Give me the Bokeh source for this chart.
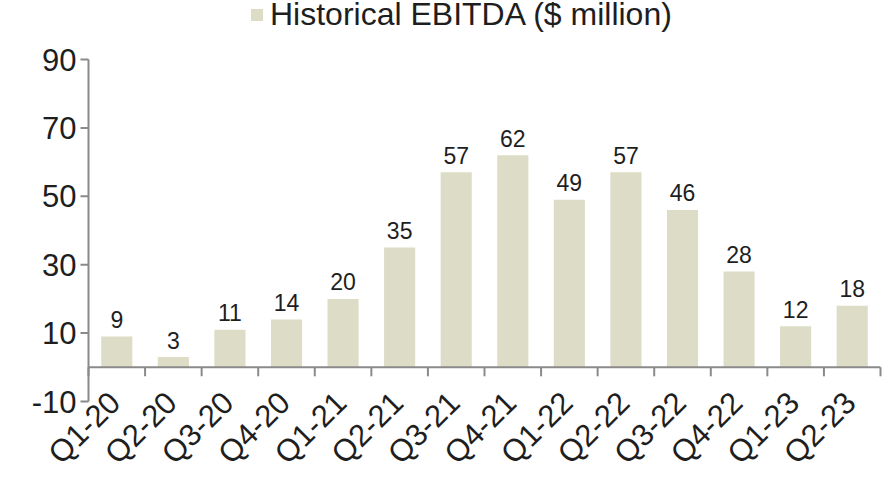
import math
from bokeh.plotting import figure
from bokeh.models import ColumnDataSource, Legend, LegendItem, Range1d
from bokeh.core.properties import value
from bokeh.embed import file_html
from bokeh.resources import INLINE

quarters = ["Q1-20", "Q2-20", "Q3-20", "Q4-20", "Q1-21", "Q2-21", "Q3-21", "Q4-21",
            "Q1-22", "Q2-22", "Q3-22", "Q4-22", "Q1-23", "Q2-23"]
ebitda = [9, 3, 11, 14, 20, 35, 57, 62, 49, 57, 46, 28, 12, 18]
y_ticks = [-10, 10, 30, 50, 70, 90]
series_name = "Historical EBITDA ($ million)"

FONT = "Liberation Sans"
BAR = "#DDDCC6"
AXIS = "#8A8A8A"
TXT = "#1E1E1E"

W, H = 882, 469
AXIS_X_PX = 88              # pixel column of the value axis
RIGHT_PX = 2
PX_PER_UNIT = 3.42          # vertical scale of the value axis
TOP_PX = 59                 # pixel row of the top tick
n = len(quarters)
px_per_cat = (W - AXIS_X_PX - RIGHT_PX) / n
x_start = -AXIS_X_PX / px_per_cat
x_end = n + RIGHT_PX / px_per_cat
y_top = y_ticks[-1] + TOP_PX / PX_PER_UNIT
y_bot = y_top - H / PX_PER_UNIT

xs = [i + 0.5 for i in range(n)]
src = ColumnDataSource(dict(x=xs, y=ebitda, lbl=[str(v) for v in ebitda]))
cat_src = ColumnDataSource(dict(x=xs, y=[0] * n, q=quarters))
edges = list(range(n + 1))
xt_len = 9 / PX_PER_UNIT
edge_src = ColumnDataSource(dict(x=edges, y0=[0] * len(edges), y1=[-xt_len] * len(edges)))
yt_len = 8 / px_per_cat
ytick_src = ColumnDataSource(dict(y=y_ticks, x0=[0] * len(y_ticks), x1=[-yt_len] * len(y_ticks),
                                  t=[str(t) for t in y_ticks]))

p = figure(width=W, height=H, output_backend="svg", toolbar_location=None,
           x_range=Range1d(x_start, x_end), y_range=Range1d(y_bot, y_top),
           x_axis_location=None, y_axis_location=None,
           min_border_left=0, min_border_right=0, min_border_top=0, min_border_bottom=0)
p.outline_line_color = None
p.grid.grid_line_color = None

r = p.vbar(x="x", top="y", bottom=0, width=0.55, source=src, fill_color=BAR, line_color=None)
p.text(x="x", y="y", text="lbl", source=src, text_font=value(FONT), text_font_size="23px",
       text_color=TXT, text_align="center", text_baseline="alphabetic", y_offset=-17)

# category axis: zero line with boundary ticks and rotated labels
p.segment(x0=0, y0=0, x1=n, y1=0, line_color=AXIS, line_width=2)
p.segment(x0="x", y0="y0", x1="x", y1="y1", source=edge_src, line_color=AXIS, line_width=2)
p.text(x="x", y="y", text="q", source=cat_src, text_font=value(FONT), text_font_size="31px",
       text_color=TXT, text_align="right", text_baseline="middle", angle=math.pi / 4,
       x_offset=-2, y_offset=30)

# value axis
p.segment(x0=0, y0=y_ticks[0], x1=0, y1=y_ticks[-1], line_color=AXIS, line_width=2)
p.segment(x0="x0", y0="y", x1="x1", y1="y", source=ytick_src, line_color=AXIS, line_width=2)
p.text(x="x0", y="y", text="t", source=ytick_src, text_font=value(FONT), text_font_size="31px",
       text_color=TXT, text_align="right", text_baseline="middle", x_offset=-12)

legend = Legend(items=[LegendItem(label=series_name, renderers=[r])],
                location=(249, 436), orientation="horizontal",
                label_text_font=FONT, label_text_font_size="32px", label_text_color=TXT,
                glyph_width=15, glyph_height=15, label_standoff=6,
                background_fill_alpha=0, border_line_color=None, padding=0, margin=0)
p.add_layout(legend, "center")

open("out.html", "w").write(file_html(p, INLINE))
